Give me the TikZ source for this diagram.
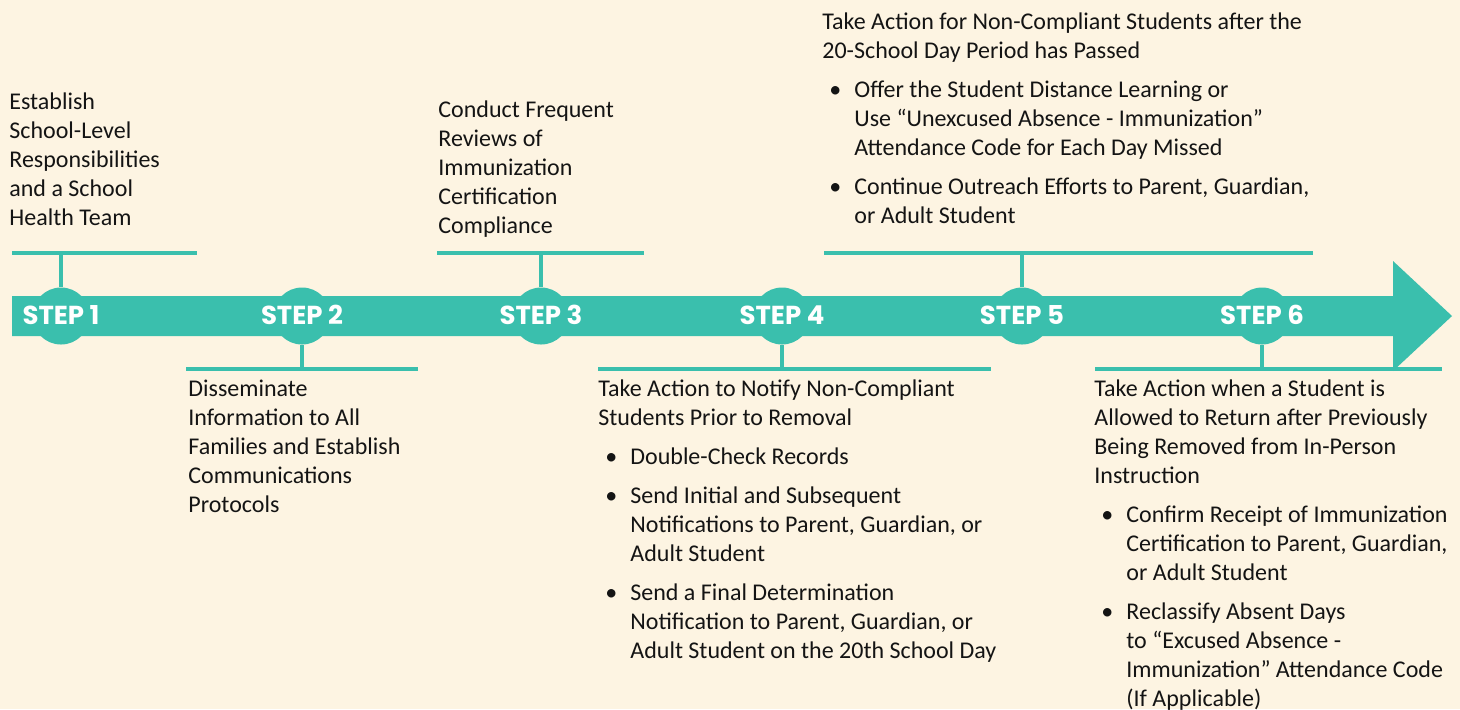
\documentclass[tikz,border=0pt]{standalone}
\usepackage{fontspec}
\setmainfont{Carlito}
\newfontfamily\stepfont{Poppins}
\usepackage{xcolor}
\usepackage{tikz}

\definecolor{stepteal}{HTML}{3ABFAD}
\definecolor{paper}{HTML}{FDF4E2}
\definecolor{ink}{HTML}{141414}

\newcommand{\stepbul}{\makebox[16pt][l]{\hspace{3.5pt}\textbullet}}
\newcommand{\stepind}{\hspace*{16pt}}

\begin{document}
\begin{tikzpicture}[
    x=0.5pt, y=-0.5pt,
    stepdot/.style={circle, fill=stepteal, minimum size=28.5pt, inner sep=0pt},
    steplabel/.style={text=white, font=\stepfont\bfseries\fontsize{13}{13}\selectfont, inner sep=0pt},
    bar/.style={draw=stepteal, line width=2.25pt},
    stem/.style={draw=stepteal, line width=2.4pt},
    desc/.style={anchor=north west, align=left, inner sep=0pt, text=ink, font=\fontsize{12}{14.5}\selectfont}
]

% Background
\fill[paper] (0,0) rectangle (1460,709);
\useasboundingbox (0,0) rectangle (1460,709);

% Timeline arrow
\fill[stepteal] (12,296) -- (1393,296) -- (1393,261) -- (1452,316) -- (1393,371) -- (1393,336) -- (12,336) -- cycle;

% Step circles
\foreach \i/\x in {1/61, 2/302, 3/541, 4/782, 5/1022, 6/1262} {
  \node[stepdot] (s\i) at (\x,316) {};
}

% Bars above and below the arrow
\coordinate (b1w) at (12,253);   \coordinate (b1e) at (197,253);
\coordinate (b2w) at (186,369);  \coordinate (b2e) at (418,369);
\coordinate (b3w) at (437,253);  \coordinate (b3e) at (644,253);
\coordinate (b4w) at (598,369);  \coordinate (b4e) at (991,369);
\coordinate (b5w) at (824,253);  \coordinate (b5e) at (1313,253);
\coordinate (b6w) at (1095,369); \coordinate (b6e) at (1442,369);

\draw[bar] (b1w) -- (b1e);
\draw[bar] (b2w) -- (b2e);
\draw[bar] (b3w) -- (b3e);
\draw[bar] (b4w) -- (b4e);
\draw[bar] (b5w) -- (b5e);
\draw[bar] (b6w) -- (b6e);

\draw[stem] (s1.north) -- (s1.north |- b1w);
\draw[stem] (s2.south) -- (s2.south |- b2w);
\draw[stem] (s3.north) -- (s3.north |- b3w);
\draw[stem] (s4.south) -- (s4.south |- b4w);
\draw[stem] (s5.north) -- (s5.north |- b5w);
\draw[stem] (s6.south) -- (s6.south |- b6w);

% Step labels
\foreach \i in {1,...,6} {
  \node[steplabel] (l\i) at ([yshift=0.5pt]s\i) {STEP \i};
}

% Descriptions
\node[desc] (t1) at (9,88.7) {\strut Establish\\School-Level\\Responsibilities\\and a School\\Health Team};

\node[desc] (t2) at (188,375.7) {\strut Disseminate\\Information to All\\Families and Establish\\Communications\\Protocols};

\node[desc] (t3) at (438,96.7) {\strut Conduct Frequent\\Reviews of\\Immunization\\Certification\\Compliance};

\node[desc] (t4) at (598,375.7) {\strut Take Action to Notify Non-Compliant\\Students Prior to Removal\\[5pt]
  \stepbul Double-Check Records\\[5pt]
  \stepbul Send Initial and Subsequent\\\stepind Notifications to Parent, Guardian, or\\\stepind Adult Student\\[5pt]
  \stepbul Send a Final Determination\\\stepind Notification to Parent, Guardian, or\\\stepind Adult Student on the 20th School Day};

\node[desc] (t5) at (822,8.7) {\strut Take Action for Non-Compliant Students after the\\20-School Day Period has Passed\\[5pt]
  \stepbul Offer the Student Distance Learning or\\\stepind Use “Unexcused Absence - Immunization”\\\stepind Attendance Code for Each Day Missed\\[5pt]
  \stepbul Continue Outreach Efforts to Parent, Guardian,\\\stepind or Adult Student};

\node[desc] (t6) at (1094,375.7) {\strut Take Action when a Student is\\Allowed to Return after Previously\\Being Removed from In-Person\\Instruction\\[5pt]
  \stepbul Confirm Receipt of Immunization\\\stepind Certification to Parent, Guardian,\\\stepind or Adult Student\\[5pt]
  \stepbul Reclassify Absent Days\\\stepind to “Excused Absence -\\\stepind Immunization” Attendance Code\\\stepind (If Applicable)};

\end{tikzpicture}
\end{document}
